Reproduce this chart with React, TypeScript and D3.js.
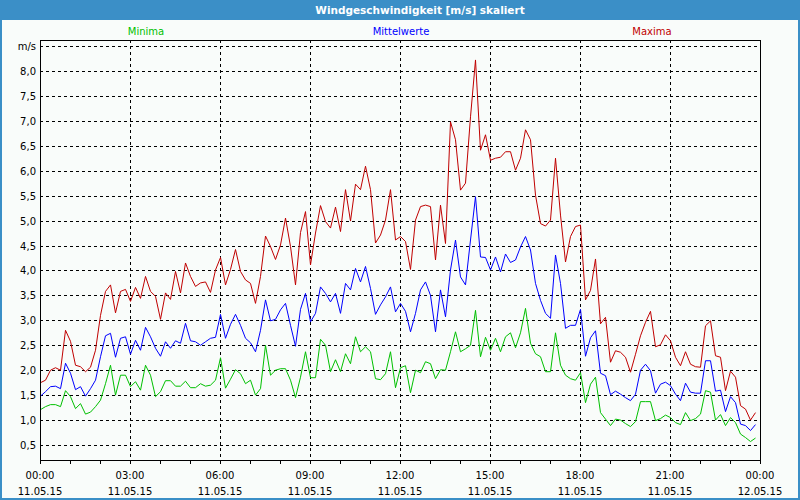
import React from "react";
import * as d3 from "d3";

// 10-minute values, 00:00 .. 23:50
const minima = [
  1.21, 1.27, 1.31, 1.31, 1.27, 1.59, 1.47, 1.23, 1.33, 1.12, 1.16, 1.27, 1.4, 1.73, 2.1, 1.5, 1.9, 1.9,
  1.67, 1.77, 1.6, 2.1, 1.9, 1.47, 1.57, 1.79, 1.79, 1.68, 1.68, 1.78, 1.65, 1.65, 1.73, 1.68, 1.7, 1.8,
  2.25, 1.64, 1.82, 2.01, 1.93, 1.73, 1.8, 1.5, 1.63, 2.5, 1.9, 2.0, 2.03, 2.03, 1.8, 1.45, 1.86, 2.37,
  1.85, 1.85, 2.62, 2.5, 1.97, 2.21, 1.97, 2.33, 2.13, 2.67, 2.37, 2.47, 2.37, 1.83, 1.81, 1.93, 2.37, 1.65,
  2.05, 2.09, 1.55, 2.0, 1.95, 2.17, 2.13, 1.83, 2.01, 2.0, 2.37, 2.77, 2.37, 2.43, 2.5, 3.2, 2.27, 2.66,
  2.4, 2.64, 2.37, 2.67, 2.75, 2.45, 2.75, 3.24, 2.54, 2.33, 2.27, 1.97, 1.97, 2.75, 2.1, 1.9, 1.83, 1.8,
  1.95, 1.35, 1.72, 1.86, 1.15, 1.02, 0.89, 1.02, 1.0, 0.93, 0.87, 0.97, 1.37, 1.37, 1.37, 0.99, 1.03, 1.1,
  1.05, 0.95, 0.91, 1.15, 0.99, 1.03, 1.12, 1.59, 1.56, 1.0, 1.11, 0.89, 1.05, 0.95, 0.72, 0.65, 0.57, 0.64,
];

const mittelwerte = [
  1.48, 1.57, 1.67, 1.68, 1.63, 2.14, 1.94, 1.61, 1.67, 1.48, 1.63, 1.8, 2.27, 2.69, 2.74, 2.26, 2.64, 2.67,
  2.32, 2.6, 2.4, 2.86, 2.67, 2.44, 2.28, 2.57, 2.44, 2.59, 2.54, 2.94, 2.59, 2.57, 2.5, 2.57, 2.64, 2.66,
  3.12, 2.64, 2.92, 3.12, 2.9, 2.64, 2.55, 2.37, 2.8, 3.41, 2.99, 3.02, 3.21, 3.34, 2.9, 2.48, 3.22, 3.54,
  2.97, 3.14, 3.67, 3.54, 3.37, 3.54, 3.14, 3.74, 3.61, 4.04, 3.77, 4.08, 3.64, 3.12, 3.31, 3.47, 3.67, 3.17,
  3.34, 3.18, 2.77, 3.14, 3.61, 3.77, 3.5, 2.77, 3.61, 3.07, 4.01, 4.61, 3.87, 3.71, 4.61, 5.48, 4.27, 4.26,
  4.01, 4.27, 3.97, 4.33, 4.16, 4.21, 4.47, 4.68, 4.41, 3.74, 3.4, 3.14, 3.04, 4.31, 3.74, 2.84, 2.9, 2.9,
  3.22, 2.28, 2.65, 2.79, 1.94, 1.89, 1.51, 1.58, 1.52, 1.45, 1.39, 1.52, 2.0, 2.12, 1.99, 1.54, 1.72, 1.76,
  1.69, 1.52, 1.39, 1.74, 1.56, 1.54, 1.54, 2.19, 2.19, 1.58, 1.6, 1.17, 1.47, 1.35, 0.92, 0.89, 0.79, 0.91,
];

const maxima = [
  1.75, 1.8, 2.0, 2.05, 2.0, 2.8, 2.58, 2.1, 2.07, 1.97, 2.06, 2.4, 3.1, 3.58, 3.71, 3.15, 3.58, 3.62,
  3.38, 3.66, 3.44, 3.88, 3.58, 3.48, 3.02, 3.55, 3.42, 3.98, 3.55, 4.15, 3.88, 3.68, 3.75, 3.77, 3.56, 4.01,
  4.26, 3.71, 4.02, 4.42, 3.98, 3.81, 3.74, 3.34, 3.88, 4.69, 4.48, 4.22, 4.51, 5.05, 4.48, 3.71, 4.76, 5.18,
  4.11, 4.75, 5.3, 4.98, 4.85, 5.27, 4.78, 5.62, 4.99, 5.73, 5.62, 6.09, 5.62, 4.55, 4.71, 5.01, 5.62, 4.61,
  4.68, 4.58, 4.02, 5.01, 5.28, 5.31, 5.28, 4.21, 5.31, 4.54, 6.98, 6.62, 5.61, 5.75, 7.08, 8.22, 6.41, 6.72,
  6.21, 6.25, 6.27, 6.38, 6.38, 6.01, 6.25, 6.82, 6.62, 5.51, 4.94, 4.89, 5.01, 6.25, 5.11, 4.17, 4.68, 4.88,
  4.91, 3.41, 3.6, 4.23, 2.93, 3.06, 2.16, 2.39, 2.36, 2.26, 1.96, 2.32, 2.69, 2.96, 3.18, 2.47, 2.51, 2.71,
  2.59, 2.26, 2.09, 2.37, 2.12, 2.07, 2.06, 2.89, 2.99, 2.29, 2.26, 1.59, 1.98, 1.86, 1.29, 1.22, 1.0, 1.15,
];

const timeLabels = ["00:00", "03:00", "06:00", "09:00", "12:00", "15:00", "18:00", "21:00", "00:00"];
const dateLabels = ["11.05.15", "11.05.15", "11.05.15", "11.05.15", "11.05.15", "11.05.15", "11.05.15", "11.05.15", "12.05.15"];
const yTicks = [0.5, 1, 1.5, 2, 2.5, 3, 3.5, 4, 4.5, 5, 5.5, 6, 6.5, 7, 7.5, 8];

const W = 800;
const H = 500;
const left = 40, right = 760, top = 40, bottom = 460;
const font = "'DejaVu Sans', Tahoma, sans-serif";
const blue = "#3b8fc7";

const series = [
  { name: "Minima", data: minima, color: "#00c000", lx: 146 },
  { name: "Mittelwerte", data: mittelwerte, color: "#0000ff", lx: 401 },
  { name: "Maxima", data: maxima, color: "#c00000", lx: 652 },
];

export default function App() {
  const x = d3.scaleLinear().domain([0, 24 * 60]).range([left, right]);
  const y = d3.scaleLinear().domain([0.2, 8.62]).range([bottom, top]);

  const line = d3
    .line<number>()
    .x((_, i) => x(i * 10) + 0.5)
    .y((d) => y(d));

  const hours = d3.range(0, 25);
  const fmt = (v: number) => v.toFixed(1).replace(".", ",");

  return (
    <svg width={W} height={H} style={{ position: "absolute", left: 0, top: 0 }} fontFamily={font}>
      <rect x={0} y={0} width={W} height={H} fill={blue} />
      <rect x={2} y={20} width={W - 4} height={H - 22} fill="#f9fcfa" />
      <text x={420} y={14} textAnchor="middle" fill="#fff" fontWeight="bold" fontSize={10.5}>
        Windgeschwindigkeit [m/s] skaliert
      </text>

      {/* legend */}
      {series.map((s) => (
        <text key={s.name} x={s.lx} y={35} textAnchor="middle" fill={s.color} fontSize={10}>
          {s.name}
        </text>
      ))}

      {/* grid */}
      <g stroke="#000" strokeDasharray="3,3" shapeRendering="crispEdges">
        {[...yTicks, 8.5].map((v) => (
          <line key={v} x1={left} x2={right} y1={Math.round(y(v)) + 0.5} y2={Math.round(y(v)) + 0.5} />
        ))}
        {d3.range(3, 24, 3).map((h) => (
          <line key={h} x1={x(h * 60) + 0.5} x2={x(h * 60) + 0.5} y1={top} y2={bottom} />
        ))}
      </g>

      {/* series */}
      {series.map((s) => (
        <path key={s.name} d={line(s.data) || ""} fill="none" stroke={s.color} strokeWidth={1} />
      ))}

      {/* frame and ticks */}
      <rect x={left + 0.5} y={top + 0.5} width={right - left} height={bottom - top} fill="none" stroke="#000" shapeRendering="crispEdges" />
      <g stroke="#000" shapeRendering="crispEdges">
        {hours.map((h) => (
          <line key={h} x1={x(h * 60) + 0.5} x2={x(h * 60) + 0.5} y1={bottom} y2={bottom + 4} />
        ))}
      </g>

      {/* y labels */}
      <g fontSize={10} fill="#000" textAnchor="end">
        {yTicks.map((v) => (
          <text key={v} x={36} y={y(v) + 4}>
            {fmt(v)}
          </text>
        ))}
        <text x={36} y={y(8.5) + 4}>m/s</text>
      </g>

      {/* x labels */}
      <g fontSize={10} fill="#000" textAnchor="middle">
        {timeLabels.map((t, i) => (
          <text key={"t" + i} x={x(i * 180)} y={479}>
            {t}
          </text>
        ))}
        {dateLabels.map((d, i) => (
          <text key={"d" + i} x={x(i * 180)} y={495}>
            {d}
          </text>
        ))}
      </g>
    </svg>
  );
}
